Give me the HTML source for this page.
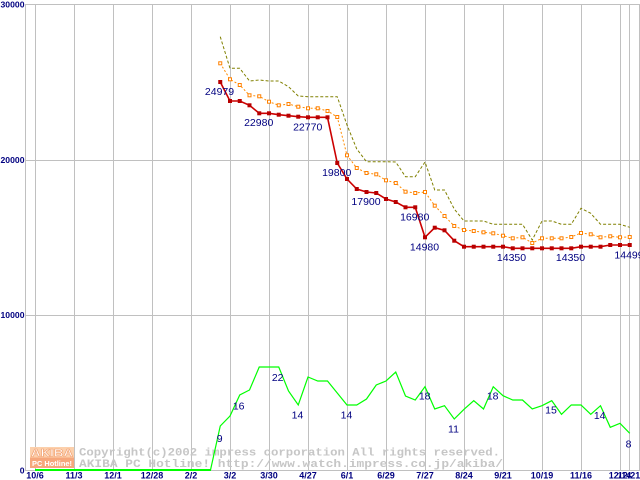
<!DOCTYPE html>
<html>
<head>
<meta charset="utf-8">
<style>
html,body{margin:0;padding:0;background:#fff;}
svg{display:block;}
.lbl{font-family:"Liberation Sans",sans-serif;font-size:10.5px;fill:#000080;text-anchor:middle;}
.ax{font-family:"Liberation Sans",sans-serif;font-weight:bold;fill:#000080;}
.cp{font-family:"Liberation Mono",monospace;font-weight:bold;font-size:11px;fill:#c6c6c6;}
</style>
</head>
<body>
<svg width="640" height="480" viewBox="0 0 640 480" xmlns="http://www.w3.org/2000/svg">
<rect x="0" y="0" width="640" height="480" fill="#fff"/>
<g stroke="#c0c0c0" stroke-width="1" shape-rendering="crispEdges" fill="none">
  <line x1="25" y1="4.5" x2="640" y2="4.5"/>
  <line x1="25" y1="160.5" x2="640" y2="160.5"/>
  <line x1="25" y1="315.5" x2="640" y2="315.5"/>
  <line x1="25" y1="470.5" x2="640" y2="470.5"/>
  <line x1="25.5" y1="4" x2="25.5" y2="471"/>
  <line x1="35.5" y1="4" x2="35.5" y2="471"/>
  <line x1="74.5" y1="4" x2="74.5" y2="471"/>
  <line x1="113.5" y1="4" x2="113.5" y2="471"/>
  <line x1="152.5" y1="4" x2="152.5" y2="471"/>
  <line x1="191.5" y1="4" x2="191.5" y2="471"/>
  <line x1="230.5" y1="4" x2="230.5" y2="471"/>
  <line x1="269.5" y1="4" x2="269.5" y2="471"/>
  <line x1="308.5" y1="4" x2="308.5" y2="471"/>
  <line x1="347.5" y1="4" x2="347.5" y2="471"/>
  <line x1="386.5" y1="4" x2="386.5" y2="471"/>
  <line x1="425.5" y1="4" x2="425.5" y2="471"/>
  <line x1="464.5" y1="4" x2="464.5" y2="471"/>
  <line x1="503.5" y1="4" x2="503.5" y2="471"/>
  <line x1="542.5" y1="4" x2="542.5" y2="471"/>
  <line x1="581.5" y1="4" x2="581.5" y2="471"/>
  <line x1="620.5" y1="4" x2="620.5" y2="471"/>
  <line x1="629.5" y1="4" x2="629.5" y2="471"/>
  <line x1="639.5" y1="4" x2="639.5" y2="471"/>
</g>

<!-- y axis labels -->
<g class="ax" font-size="8.6px" text-anchor="end">
  <text x="24.5" y="7.5" textLength="24" lengthAdjust="spacingAndGlyphs">30000</text>
  <text x="24.5" y="163" textLength="24" lengthAdjust="spacingAndGlyphs">20000</text>
  <text x="24.5" y="318" textLength="24" lengthAdjust="spacingAndGlyphs">10000</text>
  <text x="24.5" y="473.5">0</text>
</g>
<!-- x axis labels -->
<g class="ax" font-size="9px" text-anchor="middle">
  <text x="35" y="478.5">10/6</text>
  <text x="74" y="478.5">11/3</text>
  <text x="113" y="478.5">12/1</text>
  <text x="152" y="478.5">12/28</text>
  <text x="191" y="478.5">2/2</text>
  <text x="230" y="478.5">3/2</text>
  <text x="269" y="478.5">3/30</text>
  <text x="308" y="478.5">4/27</text>
  <text x="347" y="478.5">6/1</text>
  <text x="386" y="478.5">6/29</text>
  <text x="425" y="478.5">7/27</text>
  <text x="464" y="478.5">8/24</text>
  <text x="503" y="478.5">9/21</text>
  <text x="542" y="478.5">10/19</text>
  <text x="581" y="478.5">11/16</text>
  <text x="620" y="478.5">12/14</text>
  <text x="629" y="478.5">12/21</text>
</g>

<!-- olive max -->
<polyline fill="none" stroke="#808000" stroke-width="1" stroke-dasharray="3,2"
 points="220.25,36.7 230,68.3 239.75,68.3 249.5,81 259.25,80 269,81 278.75,81 288.5,86.7 298.25,96 308,96.7 317.75,96.7 327.5,96.7 337.25,96.7 347,125 356.75,149 366.5,161.7 376.25,161.7 386,161.7 395.75,162 405.5,176.7 415.25,176.7 425,162 434.75,190 444.5,190 454.25,209 464,221 473.75,221 483.5,221 493.25,224.3 503,224.3 512.75,224.3 522.5,224.3 532.25,240 542,221 551.75,221 561.5,224.3 571.25,224.3 581,208.3 590.75,213.3 600.5,224.3 610.25,224.3 620,224.3 629.75,227.3"/>

<!-- orange avg -->
<polyline fill="none" stroke="#ff8c00" stroke-width="1" stroke-dasharray="2,2"
 points="220.25,63.3 230,79.3 239.75,85 249.5,95.3 259.25,96.3 269,101.7 278.75,105.3 288.5,104 298.25,106.7 308,108.3 317.75,108.3 327.5,111 337.25,117 347,155.3 356.75,168 366.5,173 376.25,174.3 386,180.3 395.75,183 405.5,191.7 415.25,193 425,192 434.75,205.7 444.5,216 454.25,226 464,230 473.75,231 483.5,232.3 493.25,233.3 503,235.7 512.75,238.3 522.5,237.3 532.25,243 542,238.3 551.75,238.3 561.5,238.3 571.25,237 581,233 590.75,234.3 600.5,237.3 610.25,236.3 620,237.3 629.75,237"/>
<g fill="#fff" stroke="#ff8000" stroke-width="1">
  <rect x="218.75" y="61.8" width="3" height="3"/>
  <rect x="228.5" y="77.8" width="3" height="3"/>
  <rect x="238.25" y="83.5" width="3" height="3"/>
  <rect x="248" y="93.8" width="3" height="3"/>
  <rect x="257.75" y="94.8" width="3" height="3"/>
  <rect x="267.5" y="100.2" width="3" height="3"/>
  <rect x="277.25" y="103.8" width="3" height="3"/>
  <rect x="287" y="102.5" width="3" height="3"/>
  <rect x="296.75" y="105.2" width="3" height="3"/>
  <rect x="306.5" y="106.8" width="3" height="3"/>
  <rect x="316.25" y="106.8" width="3" height="3"/>
  <rect x="326" y="109.5" width="3" height="3"/>
  <rect x="335.75" y="115.5" width="3" height="3"/>
  <rect x="345.5" y="153.8" width="3" height="3"/>
  <rect x="355.25" y="166.5" width="3" height="3"/>
  <rect x="365" y="171.5" width="3" height="3"/>
  <rect x="374.75" y="172.8" width="3" height="3"/>
  <rect x="384.5" y="178.8" width="3" height="3"/>
  <rect x="394.25" y="181.5" width="3" height="3"/>
  <rect x="404" y="190.2" width="3" height="3"/>
  <rect x="413.75" y="191.5" width="3" height="3"/>
  <rect x="423.5" y="190.5" width="3" height="3"/>
  <rect x="433.25" y="204.2" width="3" height="3"/>
  <rect x="443" y="214.5" width="3" height="3"/>
  <rect x="452.75" y="224.5" width="3" height="3"/>
  <rect x="462.5" y="228.5" width="3" height="3"/>
  <rect x="472.25" y="229.5" width="3" height="3"/>
  <rect x="482" y="230.8" width="3" height="3"/>
  <rect x="491.75" y="231.8" width="3" height="3"/>
  <rect x="501.5" y="234.2" width="3" height="3"/>
  <rect x="511.25" y="236.8" width="3" height="3"/>
  <rect x="521" y="235.8" width="3" height="3"/>
  <rect x="530.75" y="241.5" width="3" height="3"/>
  <rect x="540.5" y="236.8" width="3" height="3"/>
  <rect x="550.25" y="236.8" width="3" height="3"/>
  <rect x="560" y="236.8" width="3" height="3"/>
  <rect x="569.75" y="235.5" width="3" height="3"/>
  <rect x="579.5" y="231.5" width="3" height="3"/>
  <rect x="589.25" y="232.8" width="3" height="3"/>
  <rect x="599" y="235.8" width="3" height="3"/>
  <rect x="608.75" y="234.8" width="3" height="3"/>
  <rect x="618.5" y="235.8" width="3" height="3"/>
  <rect x="628.25" y="235.5" width="3" height="3"/>
</g>

<!-- red min -->
<polyline fill="none" stroke="#cc0000" stroke-width="1.6"
 points="220.25,82 230,101 239.75,101 249.5,105.3 259.25,113.3 269,113.3 278.75,114.7 288.5,115.7 298.25,116.7 308,117.3 317.75,117.3 327.5,117.3 337.25,163 347,179 356.75,189 366.5,192 376.25,193 386,199 395.75,202 405.5,207.3 415.25,207.3 425,237.3 434.75,227.7 444.5,230.3 454.25,240.7 464,246.7 473.75,246.7 483.5,246.7 493.25,246.7 503,246.7 512.75,248.3 522.5,248.3 532.25,248.3 542,248.3 551.75,248.3 561.5,248.3 571.25,248.3 581,246.7 590.75,246.7 600.5,246.7 610.25,245 620,245 629.75,245"/>
<g fill="#b80000">
  <rect x="218.25" y="80" width="4" height="4"/>
  <rect x="228" y="99" width="4" height="4"/>
  <rect x="237.75" y="99" width="4" height="4"/>
  <rect x="247.5" y="103.3" width="4" height="4"/>
  <rect x="257.25" y="111.3" width="4" height="4"/>
  <rect x="267" y="111.3" width="4" height="4"/>
  <rect x="276.75" y="112.7" width="4" height="4"/>
  <rect x="286.5" y="113.7" width="4" height="4"/>
  <rect x="296.25" y="114.7" width="4" height="4"/>
  <rect x="306" y="115.3" width="4" height="4"/>
  <rect x="315.75" y="115.3" width="4" height="4"/>
  <rect x="325.5" y="115.3" width="4" height="4"/>
  <rect x="335.25" y="161" width="4" height="4"/>
  <rect x="345" y="177" width="4" height="4"/>
  <rect x="354.75" y="187" width="4" height="4"/>
  <rect x="364.5" y="190" width="4" height="4"/>
  <rect x="374.25" y="191" width="4" height="4"/>
  <rect x="384" y="197" width="4" height="4"/>
  <rect x="393.75" y="200" width="4" height="4"/>
  <rect x="403.5" y="205.3" width="4" height="4"/>
  <rect x="413.25" y="205.3" width="4" height="4"/>
  <rect x="423" y="235.3" width="4" height="4"/>
  <rect x="432.75" y="225.7" width="4" height="4"/>
  <rect x="442.5" y="228.3" width="4" height="4"/>
  <rect x="452.25" y="238.7" width="4" height="4"/>
  <rect x="462" y="244.7" width="4" height="4"/>
  <rect x="471.75" y="244.7" width="4" height="4"/>
  <rect x="481.5" y="244.7" width="4" height="4"/>
  <rect x="491.25" y="244.7" width="4" height="4"/>
  <rect x="501" y="244.7" width="4" height="4"/>
  <rect x="510.75" y="246.3" width="4" height="4"/>
  <rect x="520.5" y="246.3" width="4" height="4"/>
  <rect x="530.25" y="246.3" width="4" height="4"/>
  <rect x="540" y="246.3" width="4" height="4"/>
  <rect x="549.75" y="246.3" width="4" height="4"/>
  <rect x="559.5" y="246.3" width="4" height="4"/>
  <rect x="569.25" y="246.3" width="4" height="4"/>
  <rect x="579" y="244.7" width="4" height="4"/>
  <rect x="588.75" y="244.7" width="4" height="4"/>
  <rect x="598.5" y="244.7" width="4" height="4"/>
  <rect x="608.25" y="243" width="4" height="4"/>
  <rect x="618" y="243" width="4" height="4"/>
  <rect x="627.75" y="243" width="4" height="4"/>
</g>

<!-- watermark -->
<g>
  <rect x="30" y="447" width="44" height="10.5" fill="#fcd0ac"/>
  <rect x="30" y="457.5" width="44" height="10.5" fill="#f6a77c"/>
  <text x="31" y="456.5" font-family="Liberation Sans,sans-serif" font-weight="bold" font-size="11px" fill="#fff" stroke="#f2a070" stroke-width="0.6" textLength="42" lengthAdjust="spacingAndGlyphs">AKIBA</text>
  <text x="32" y="465.8" font-family="Liberation Sans,sans-serif" font-weight="bold" font-size="7.5px" fill="#fff" textLength="40" lengthAdjust="spacingAndGlyphs">PC Hotline!</text>
  <text class="cp" x="79" y="455.5" textLength="421" lengthAdjust="spacingAndGlyphs">Copyright(c)2002 impress corporation All rights reserved.</text>
  <text class="cp" x="79" y="467" textLength="424" lengthAdjust="spacingAndGlyphs">AKIBA PC Hotline! http://www.watch.impress.co.jp/akiba/</text>
</g>

<!-- green count -->
<rect x="35" y="469" width="176" height="2" fill="#00ff00"/>
<polyline fill="none" stroke="#00ff00" stroke-width="1.2"
 points="35,470 210.5,470 220.25,426 230,416 239.75,395 249.5,390 259.25,367 269,367 278.75,367 288.5,391 298.25,405 308,377 317.75,381 327.5,381 337.25,393 347,405 356.75,405 366.5,399 376.25,385 386,381 395.75,372 405.5,396 415.25,400 425,386.7 434.75,409 444.5,405.7 454.25,419 464,409.3 473.75,400.7 483.5,409 493.25,386.7 503,395.7 512.75,400 522.5,400 532.25,409 542,405.7 551.75,400.7 561.5,414.3 571.25,405 581,405 590.75,414.3 600.5,405.7 610.25,427.3 620,423.3 629.75,433.3"/>

<!-- red labels -->
<g class="lbl">
  <text x="219.5" y="95">24979</text>
  <text x="258.7" y="126">22980</text>
  <text x="307.7" y="130.3">22770</text>
  <text x="336.7" y="176">19800</text>
  <text x="366" y="205">17900</text>
  <text x="414.7" y="220.3">16980</text>
  <text x="424.5" y="250.5">14980</text>
  <text x="511.5" y="260.8">14350</text>
  <text x="570.5" y="260.8">14350</text>
  <text x="629" y="258.5">14499</text>
</g>
<!-- green labels -->
<g class="lbl">
  <text x="219.7" y="442">9</text>
  <text x="238.7" y="409.5">16</text>
  <text x="277.7" y="381">22</text>
  <text x="297.5" y="418.5">14</text>
  <text x="346.5" y="418.5">14</text>
  <text x="424.7" y="399.5">18</text>
  <text x="453.5" y="432.7">11</text>
  <text x="492.7" y="399.5">18</text>
  <text x="551" y="413.5">15</text>
  <text x="599.7" y="419">14</text>
  <text x="628.5" y="447.3">8</text>
</g>
</svg>
</body>
</html>
